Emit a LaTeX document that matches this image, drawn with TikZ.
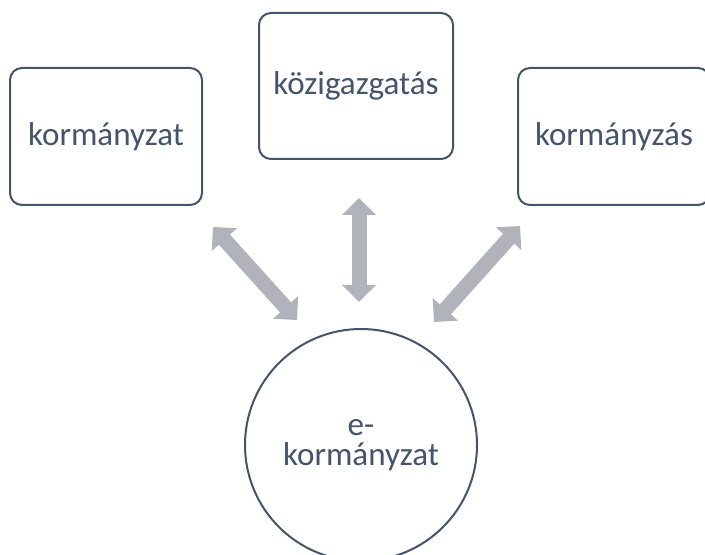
\documentclass[tikz,border=0pt]{standalone}
\usepackage{fontspec}
\setmainfont{Carlito}
\usetikzlibrary{arrows.meta}
\definecolor{slate}{RGB}{68,84,106}
\definecolor{arrowgray}{RGB}{176,179,186}

\begin{document}
\begin{tikzpicture}[x=0.75pt,y=-0.75pt,
  term/.style={draw=slate,line width=1.5pt,rounded corners=9pt,text=slate,
    font=\fontsize{24.8}{22.4}\selectfont,inner sep=0pt,
    minimum width=144pt,minimum height=102.75pt},
  hub/.style={circle,draw=slate,line width=1.5pt,text=slate,align=center,
    font=\fontsize{24.8}{22.4}\selectfont,inner sep=0pt,minimum size=174pt},
  link/.style={arrowgray,line width=11.25pt,
    {Triangle[width=24.75pt,length=12.75pt]}-{Triangle[width=24.75pt,length=12.75pt]}}]
\useasboundingbox (0,0) rectangle (705,555);
\node[term] (korm) at (106,136.5) {kormányzat};
\node[term,minimum width=145.5pt,minimum height=109.5pt] (kozig) at (356,86) {közigazgatás};
\node[term] (kormz) at (614,136.5) {kormányzás};
\node[hub] (ekorm) at (361,445) {e-\\kormányzat};
\coordinate (l1) at (213,227);
\coordinate (l2) at (297,320);
\coordinate (m1) at (359,198);
\coordinate (m2) at (359,302);
\coordinate (r1) at (520,226);
\coordinate (r2) at (434,322);
\draw[link] (l1)--(l2);
\draw[link] (m1)--(m2);
\draw[link] (r1)--(r2);
\end{tikzpicture}
\end{document}
